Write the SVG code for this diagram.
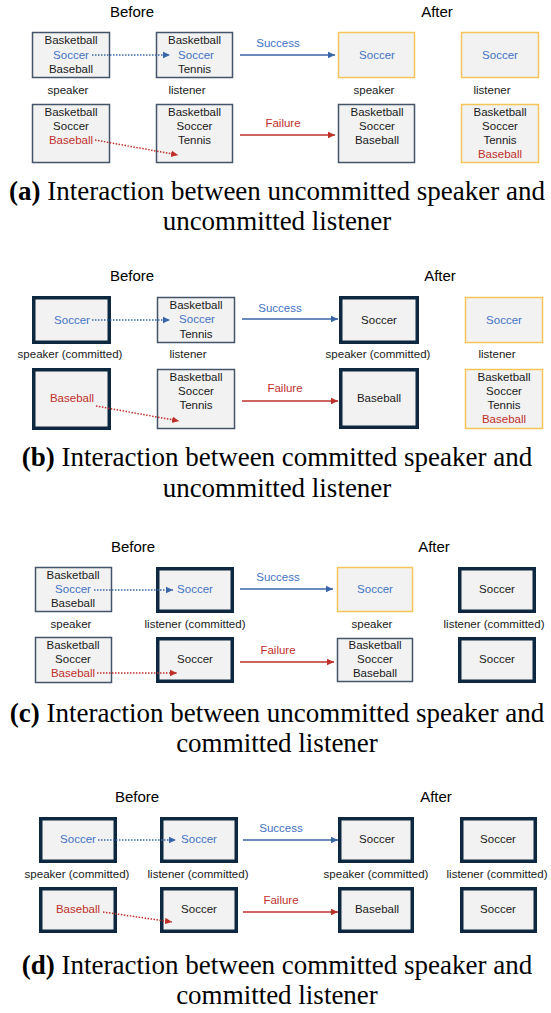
<svg xmlns="http://www.w3.org/2000/svg" width="551" height="1013" viewBox="0 0 551 1013">
<style>
.box{fill:#F2F2F2;stroke:#44546A;stroke-width:1.5}
.thick{fill:#F2F2F2;stroke:#0E2841;stroke-width:3.5}
.yel{fill:#F2F2F2;stroke:#F5C55A;stroke-width:1.5}
.t{font-family:"Liberation Sans",Arial,sans-serif;font-size:11.5px;text-anchor:middle;fill:#1A1A1A}
.b{fill:#4472C4}
.r{fill:#C0302B}
.h{font-family:"Liberation Sans",Arial,sans-serif;font-size:15px;text-anchor:middle;fill:#000}
.cap{font-family:"Liberation Serif","Times New Roman",serif;font-size:27px;text-anchor:middle;fill:#000}
.sb{stroke:#3A65A8;stroke-width:1.6;fill:none}
.sr{stroke:#C0302B;stroke-width:1.6;fill:none}
.db{stroke:#3A65A8;stroke-width:1.5;stroke-dasharray:1.5 1.5;fill:none}
.dr{stroke:#C0302B;stroke-width:1.5;stroke-dasharray:1.5 1.5;fill:none}
</style>
<defs>
<marker id="ab" markerUnits="userSpaceOnUse" markerWidth="8" markerHeight="8" refX="7" refY="4" orient="auto"><path d="M0,0.8 L7,4 L0,7.2 Z" fill="#3A65A8"/></marker>
<marker id="ar" markerUnits="userSpaceOnUse" markerWidth="8" markerHeight="8" refX="7" refY="4" orient="auto"><path d="M0,0.8 L7,4 L0,7.2 Z" fill="#C0302B"/></marker>
</defs>

<!-- Panel (a) -->
<g id="a-headers"><text class="h" x="132" y="17">Before</text><text class="h" x="437" y="17">After</text></g>
<g id="a-spk1"><rect class="box" x="32.5" y="32.5" width="77" height="45"/><text class="t" x="71" y="44">Basketball</text><text class="t b" x="71" y="58.5">Soccer</text><text class="t" x="71" y="73">Baseball</text></g>
<g id="a-lis1"><rect class="box" x="156.5" y="32.5" width="76" height="45"/><text class="t" x="194.5" y="44">Basketball</text><text class="t b" x="196" y="58.5">Soccer</text><text class="t" x="194.5" y="73">Tennis</text></g>
<g id="a-spk1-after"><rect class="yel" x="338.5" y="32.5" width="76" height="45"/><text class="t b" x="377" y="59">Soccer</text></g>
<g id="a-lis1-after"><rect class="yel" x="461.5" y="32.5" width="77" height="45"/><text class="t b" x="500" y="59">Soccer</text></g>
<g id="a-labels"><text class="t" x="68" y="94">speaker</text><text class="t" x="187" y="94">listener</text><text class="t" x="374" y="94">speaker</text><text class="t" x="492" y="94">listener</text></g>
<g id="a-spk2"><rect class="box" x="32.5" y="104.5" width="77" height="58"/><text class="t" x="71" y="115.5">Basketball</text><text class="t" x="71" y="130">Soccer</text><text class="t r" x="71" y="144">Baseball</text></g>
<g id="a-lis2"><rect class="box" x="156.5" y="104.5" width="76" height="58"/><text class="t" x="194.5" y="115.5">Basketball</text><text class="t" x="194.5" y="130">Soccer</text><text class="t" x="194.5" y="144">Tennis</text></g>
<g id="a-spk2-after"><rect class="box" x="338.5" y="104.5" width="76" height="58"/><text class="t" x="377" y="115.5">Basketball</text><text class="t" x="377" y="130">Soccer</text><text class="t" x="377" y="144">Baseball</text></g>
<g id="a-lis2-after"><rect class="yel" x="461.5" y="104.5" width="77" height="58"/><text class="t" x="500" y="115.5">Basketball</text><text class="t" x="500" y="130">Soccer</text><text class="t" x="500" y="144">Tennis</text><text class="t r" x="500" y="158">Baseball</text></g>

<!-- Panel (b) -->
<g id="b-headers"><text class="h" x="132" y="281">Before</text><text class="h" x="440" y="281">After</text></g>
<g id="b-spk1"><rect class="thick" x="33.75" y="297.75" width="75.5" height="44.5"/><text class="t b" x="72" y="324">Soccer</text></g>
<g id="b-lis1"><rect class="box" x="157.5" y="297.5" width="77" height="45"/><text class="t" x="196" y="308.5">Basketball</text><text class="t b" x="197" y="323">Soccer</text><text class="t" x="196" y="337.5">Tennis</text></g>
<g id="b-spk1-after"><rect class="thick" x="340.75" y="297.75" width="76.5" height="44.5"/><text class="t" x="379" y="324">Soccer</text></g>
<g id="b-lis1-after"><rect class="yel" x="465.5" y="297.5" width="77" height="45"/><text class="t b" x="504" y="324">Soccer</text></g>
<g id="b-labels"><text class="t" x="70" y="358">speaker (committed)</text><text class="t" x="188" y="358">listener</text><text class="t" x="378" y="358">speaker (committed)</text><text class="t" x="497" y="358">listener</text></g>
<g id="b-spk2"><rect class="thick" x="33.75" y="369.75" width="75.5" height="58.5"/><text class="t r" x="72" y="402">Baseball</text></g>
<g id="b-lis2"><rect class="box" x="157.5" y="369.5" width="77" height="59"/><text class="t" x="196" y="380.5">Basketball</text><text class="t" x="196" y="395">Soccer</text><text class="t" x="196" y="409">Tennis</text></g>
<g id="b-spk2-after"><rect class="thick" x="340.75" y="369.75" width="76.5" height="57.5"/><text class="t" x="379" y="402">Baseball</text></g>
<g id="b-lis2-after"><rect class="yel" x="465.5" y="369.5" width="77" height="59"/><text class="t" x="504" y="380.5">Basketball</text><text class="t" x="504" y="395">Soccer</text><text class="t" x="504" y="409">Tennis</text><text class="t r" x="504" y="423">Baseball</text></g>

<!-- Panel (c) -->
<g id="c-headers"><text class="h" x="133" y="552">Before</text><text class="h" x="434" y="552">After</text></g>
<g id="c-spk1"><rect class="box" x="35.5" y="567.5" width="76" height="44"/><text class="t" x="73" y="578.5">Basketball</text><text class="t b" x="73" y="593">Soccer</text><text class="t" x="73" y="607">Baseball</text></g>
<g id="c-lis1"><rect class="thick" x="157.75" y="568.75" width="74.5" height="42.5"/><text class="t b" x="195" y="593">Soccer</text></g>
<g id="c-spk1-after"><rect class="yel" x="337.5" y="567.5" width="75" height="44"/><text class="t b" x="375" y="593">Soccer</text></g>
<g id="c-lis1-after"><rect class="thick" x="459.75" y="568.75" width="74.5" height="42.5"/><text class="t" x="497" y="593">Soccer</text></g>
<g id="c-labels"><text class="t" x="71" y="628">speaker</text><text class="t" x="195" y="628">listener (committed)</text><text class="t" x="372" y="628">speaker</text><text class="t" x="494" y="628">listener (committed)</text></g>
<g id="c-spk2"><rect class="box" x="35.5" y="637.5" width="76" height="45"/><text class="t" x="73" y="648.5">Basketball</text><text class="t" x="73" y="663">Soccer</text><text class="t r" x="73" y="677">Baseball</text></g>
<g id="c-lis2"><rect class="thick" x="157.75" y="638.75" width="74.5" height="42.5"/><text class="t" x="195" y="663">Soccer</text></g>
<g id="c-spk2-after"><rect class="box" x="337.5" y="638.5" width="75" height="43"/><text class="t" x="375" y="648.5">Basketball</text><text class="t" x="375" y="663">Soccer</text><text class="t" x="375" y="677">Baseball</text></g>
<g id="c-lis2-after"><rect class="thick" x="459.75" y="638.75" width="74.5" height="42.5"/><text class="t" x="497" y="663">Soccer</text></g>

<!-- Panel (d) -->
<g id="d-headers"><text class="h" x="137" y="802">Before</text><text class="h" x="436" y="802">After</text></g>
<g id="d-spk1"><rect class="thick" x="40.75" y="818.75" width="74.5" height="42.5"/><text class="t b" x="78" y="843">Soccer</text></g>
<g id="d-lis1"><rect class="thick" x="161.75" y="818.75" width="74.5" height="42.5"/><text class="t b" x="199" y="843">Soccer</text></g>
<g id="d-spk1-after"><rect class="thick" x="339.75" y="818.75" width="72.5" height="42.5"/><text class="t" x="377" y="843">Soccer</text></g>
<g id="d-lis1-after"><rect class="thick" x="461.75" y="818.75" width="73.5" height="42.5"/><text class="t" x="498" y="843">Soccer</text></g>
<g id="d-labels"><text class="t" x="77" y="878">speaker (committed)</text><text class="t" x="198" y="878">listener (committed)</text><text class="t" x="376" y="878">speaker (committed)</text><text class="t" x="497" y="878">listener (committed)</text></g>
<g id="d-spk2"><rect class="thick" x="40.75" y="888.75" width="74.5" height="42.5"/><text class="t r" x="78" y="913">Baseball</text></g>
<g id="d-lis2"><rect class="thick" x="161.75" y="888.75" width="74.5" height="42.5"/><text class="t" x="199" y="913">Soccer</text></g>
<g id="d-spk2-after"><rect class="thick" x="339.75" y="888.75" width="72.5" height="42.5"/><text class="t" x="377" y="913">Baseball</text></g>
<g id="d-lis2-after"><rect class="thick" x="461.75" y="888.75" width="73.5" height="42.5"/><text class="t" x="498" y="913">Soccer</text></g>

<!-- Connectors -->
<g id="connectors">
<line class="db" x1="92" y1="55" x2="170" y2="55" marker-end="url(#ab)"/>
<line class="dr" x1="95" y1="140" x2="178" y2="155" marker-end="url(#ar)"/>
<line class="sb" x1="240" y1="55" x2="335" y2="55" marker-end="url(#ab)"/>
<line class="sr" x1="240" y1="135" x2="335" y2="135" marker-end="url(#ar)"/>
<line class="db" x1="92" y1="320" x2="170" y2="320" marker-end="url(#ab)"/>
<line class="dr" x1="96" y1="406" x2="179" y2="421" marker-end="url(#ar)"/>
<line class="sb" x1="242" y1="319" x2="338" y2="319" marker-end="url(#ab)"/>
<line class="sr" x1="242" y1="401" x2="338" y2="401" marker-end="url(#ar)"/>
<line class="db" x1="94" y1="590" x2="173" y2="590" marker-end="url(#ab)"/>
<line class="dr" x1="97" y1="673" x2="177" y2="673" marker-end="url(#ar)"/>
<line class="sb" x1="240" y1="589" x2="333" y2="589" marker-end="url(#ab)"/>
<line class="sr" x1="240" y1="662" x2="334" y2="662" marker-end="url(#ar)"/>
<line class="db" x1="98" y1="840" x2="176" y2="840" marker-end="url(#ab)"/>
<line class="dr" x1="103" y1="912" x2="172" y2="922" marker-end="url(#ar)"/>
<line class="sb" x1="243" y1="840" x2="338" y2="840" marker-end="url(#ab)"/>
<line class="sr" x1="243" y1="912" x2="338" y2="912" marker-end="url(#ar)"/>
</g>
<g id="connector-labels">
<text class="t b" x="278" y="47">Success</text>
<text class="t r" x="283" y="127">Failure</text>
<text class="t b" x="280" y="312">Success</text>
<text class="t r" x="285" y="392">Failure</text>
<text class="t b" x="278" y="581">Success</text>
<text class="t r" x="278" y="654">Failure</text>
<text class="t b" x="281" y="832">Success</text>
<text class="t r" x="281" y="904">Failure</text>
</g>

<!-- Captions -->
<g id="captions">
<text class="cap" x="277" y="200"><tspan font-weight="bold">(a)</tspan> Interaction between uncommitted speaker and</text>
<text class="cap" x="277" y="230">uncommitted listener</text>
<text class="cap" x="277" y="466"><tspan font-weight="bold">(b)</tspan> Interaction between committed speaker and</text>
<text class="cap" x="277" y="497">uncommitted listener</text>
<text class="cap" x="277" y="722"><tspan font-weight="bold">(c)</tspan> Interaction between uncommitted speaker and</text>
<text class="cap" x="277" y="752">committed listener</text>
<text class="cap" x="277" y="974"><tspan font-weight="bold">(d)</tspan> Interaction between committed speaker and</text>
<text class="cap" x="277" y="1004">committed listener</text>
</g>
</svg>
